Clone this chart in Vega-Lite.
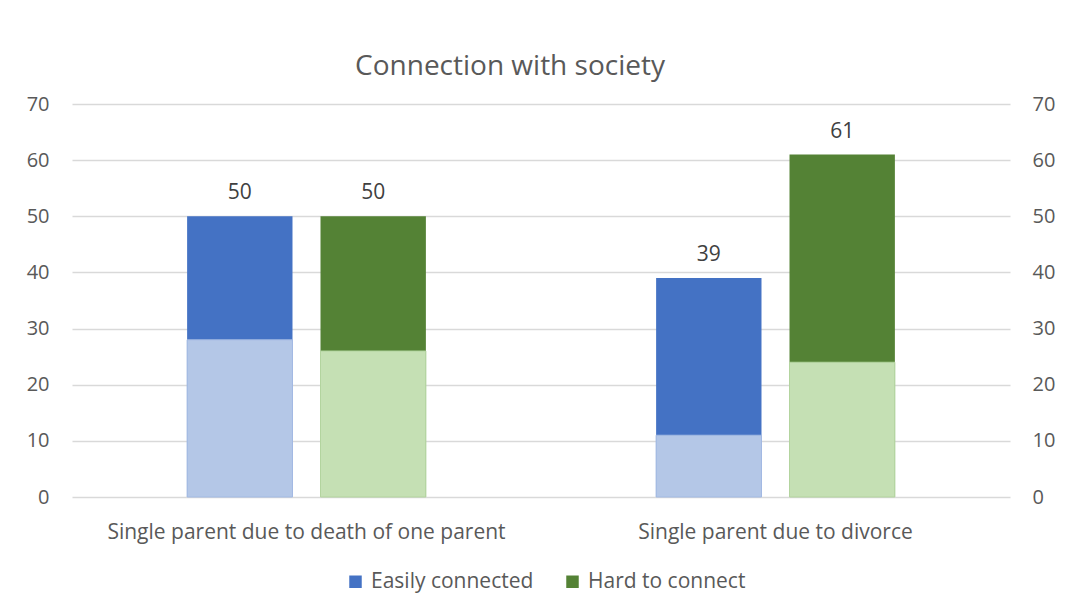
{
  "$schema": "https://vega.github.io/schema/vega-lite/v6.json",
  "width": 938,
  "height": 393,
  "autosize": {"type": "none"},
  "padding": {"left": 72, "top": 104, "right": 57, "bottom": 114},
  "background": "white",
  "title": {
    "text": "Connection with society",
    "font": "Open Sans",
    "fontSize": 28,
    "fontWeight": "normal",
    "color": "#595959",
    "anchor": "middle",
    "baseline": "alphabetic",
    "dx": -31,
    "dy": 38,
    "offset": 29
  },
  "data": {
    "values": [
      {"group": "Single parent due to death of one parent", "series": "Easily connected", "total": 50, "base": 28},
      {"group": "Single parent due to death of one parent", "series": "Hard to connect", "total": 50, "base": 26},
      {"group": "Single parent due to divorce", "series": "Easily connected", "total": 39, "base": 11},
      {"group": "Single parent due to divorce", "series": "Hard to connect", "total": 61, "base": 24}
    ]
  },
  "encoding": {
    "x": {
      "field": "group",
      "type": "nominal",
      "sort": null,
      "title": null,
      "scale": {"paddingInner": 0, "paddingOuter": 0},
      "axis": {
        "labelAngle": 0,
        "labelFont": "Open Sans",
        "labelFontSize": 21,
        "labelColor": "#595959",
        "labelBaseline": "alphabetic",
        "labelPadding": 41,
        "labelLimit": 0,
        "ticks": false,
        "tickSize": 0,
        "domain": false,
        "grid": false
      }
    },
    "xOffset": {
      "field": "series",
      "type": "nominal",
      "sort": null,
      "scale": {"paddingInner": 0.21, "paddingOuter": 0.863}
    }
  },
  "layer": [
    {
      "mark": {"type": "bar"},
      "encoding": {
        "y": {
          "field": "total",
          "type": "quantitative",
          "title": null,
          "scale": {"domain": [0, 70]},
          "axis": {
            "orient": "left",
            "values": [0, 10, 20, 30, 40, 50, 60, 70],
            "labelFont": "Open Sans",
            "labelFontSize": 20,
            "labelColor": "#595959",
            "labelPadding": 23,
            "ticks": false,
            "tickSize": 0,
            "domain": false,
            "grid": true,
            "gridColor": "#d9d9d9",
            "gridWidth": 1.5
          }
        },
        "color": {
          "field": "series",
          "type": "nominal",
          "title": null,
          "scale": {
            "domain": ["Easily connected", "Hard to connect"],
            "range": ["#4472C4", "#548235"]
          },
          "legend": {
            "orient": "none",
            "legendX": 273,
            "legendY": 467,
            "padding": 0,
            "direction": "horizontal",
            "symbolType": "square",
            "symbolSize": 156,
            "symbolStrokeWidth": 0,
            "labelFont": "Open Sans",
            "labelFontSize": 21,
            "labelColor": "#595959",
            "labelOffset": 5,
            "labelLimit": 300,
            "columnPadding": 28
          }
        }
      }
    },
    {
      "mark": {"type": "bar", "strokeWidth": 1},
      "encoding": {
        "y": {
          "field": "base",
          "type": "quantitative",
          "title": null,
          "scale": {"domain": [0, 70]},
          "axis": {
            "orient": "right",
            "values": [0, 10, 20, 30, 40, 50, 60, 70],
            "labelFont": "Open Sans",
            "labelFontSize": 20,
            "labelColor": "#595959",
            "labelPadding": 22,
            "ticks": false,
            "tickSize": 0,
            "domain": false,
            "grid": false
          }
        },
        "color": {
          "condition": {"test": "datum.series === 'Easily connected'", "value": "#B4C7E7"},
          "value": "#C5E0B4"
        },
        "stroke": {
          "condition": {"test": "datum.series === 'Easily connected'", "value": "#A3BAE3"},
          "value": "#B3D49F"
        }
      }
    },
    {
      "mark": {
        "type": "text",
        "baseline": "alphabetic",
        "dy": -17,
        "font": "Open Sans",
        "fontSize": 21,
        "color": "#404040"
      },
      "encoding": {
        "y": {"field": "total", "type": "quantitative", "axis": null},
        "text": {"field": "total", "type": "quantitative"}
      }
    }
  ],
  "resolve": {"axis": {"y": "independent"}},
  "config": {
    "view": {"stroke": null}
  }
}
